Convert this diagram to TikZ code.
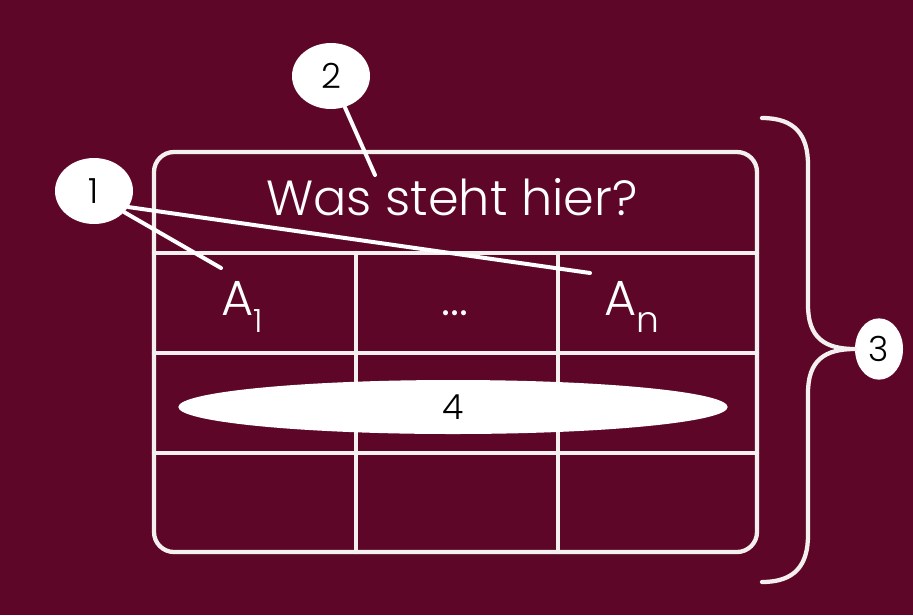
\documentclass[tikz,border=0pt]{standalone}
\usepackage{fontspec}
\setmainfont{Poppins Light}
\usetikzlibrary{shapes.geometric}
\definecolor{bgred}{RGB}{94,6,40}
\definecolor{linewhite}{RGB}{245,240,240}
\begin{document}
\begin{tikzpicture}[x=0.75pt,y=-0.75pt,line join=round,line cap=round,
  tline/.style={draw=linewhite,line width=3.2pt},
  cline/.style={draw=white,line width=3pt},
  callout/.style={ellipse,fill=white,inner sep=0pt,text=black,font=\fontsize{26}{26}\selectfont},
  tabtext/.style={text=white,inner sep=0pt,font=\fontsize{37}{37}\selectfont}]
\fill[bgred] (0,0) rectangle (913,615);
\useasboundingbox (0,0) rectangle (913,615);
% table
\draw[tline,rounded corners=15pt] (154,152) rectangle (757,552);
\draw[tline] (154,253) -- (757,253);
\draw[tline] (154,353) -- (757,353);
\draw[tline] (154,453) -- (757,453);
\draw[tline] (356,253) -- (356,552);
\draw[tline] (558,253) -- (558,552);
% texts
\node[tabtext] (head) at (452,197) {Was steht hier?};
\node[tabtext,anchor=base] (a1) at (242,315) {A\raisebox{-0.36em}{\fontsize{24}{24}\selectfont 1}};
\node[tabtext,anchor=base] (dots) at (455,315) {\fontseries{m}\selectfont ...};
\node[tabtext,anchor=base] (an) at (632,315) {A\raisebox{-0.36em}{\fontsize{27}{27}\selectfont n}};
% callouts
\node[callout,minimum width=58.5pt,minimum height=49.5pt] (c1) at (94,191) {1};
\node[callout,minimum width=58.5pt,minimum height=49.5pt] (c2) at (331,76) {2};
\node[callout,minimum width=36pt,minimum height=46pt] (c3) at (879,349) {3};
\node[callout,minimum width=412pt,minimum height=40.5pt] (c4) at (453,407) {4};
% connector ends
\coordinate (e1a) at (221,268);
\coordinate (e1b) at (590,273);
\coordinate (e2) at (375,175);
\draw[cline] (c1.-35) -- (e1a);
\draw[cline] (c1.-25) -- (e1b);
\draw[cline] (c2) -- (e2);
% brace
\draw[tline] (762,118) .. controls (795,118) and (808,135) .. (808,165) -- (808,305)
  .. controls (808,338) and (825,349) .. (c3.west)
  .. controls (825,349) and (808,360) .. (808,393) -- (808,535)
  .. controls (808,565) and (795,582) .. (762,582);
\end{tikzpicture}
\end{document}
